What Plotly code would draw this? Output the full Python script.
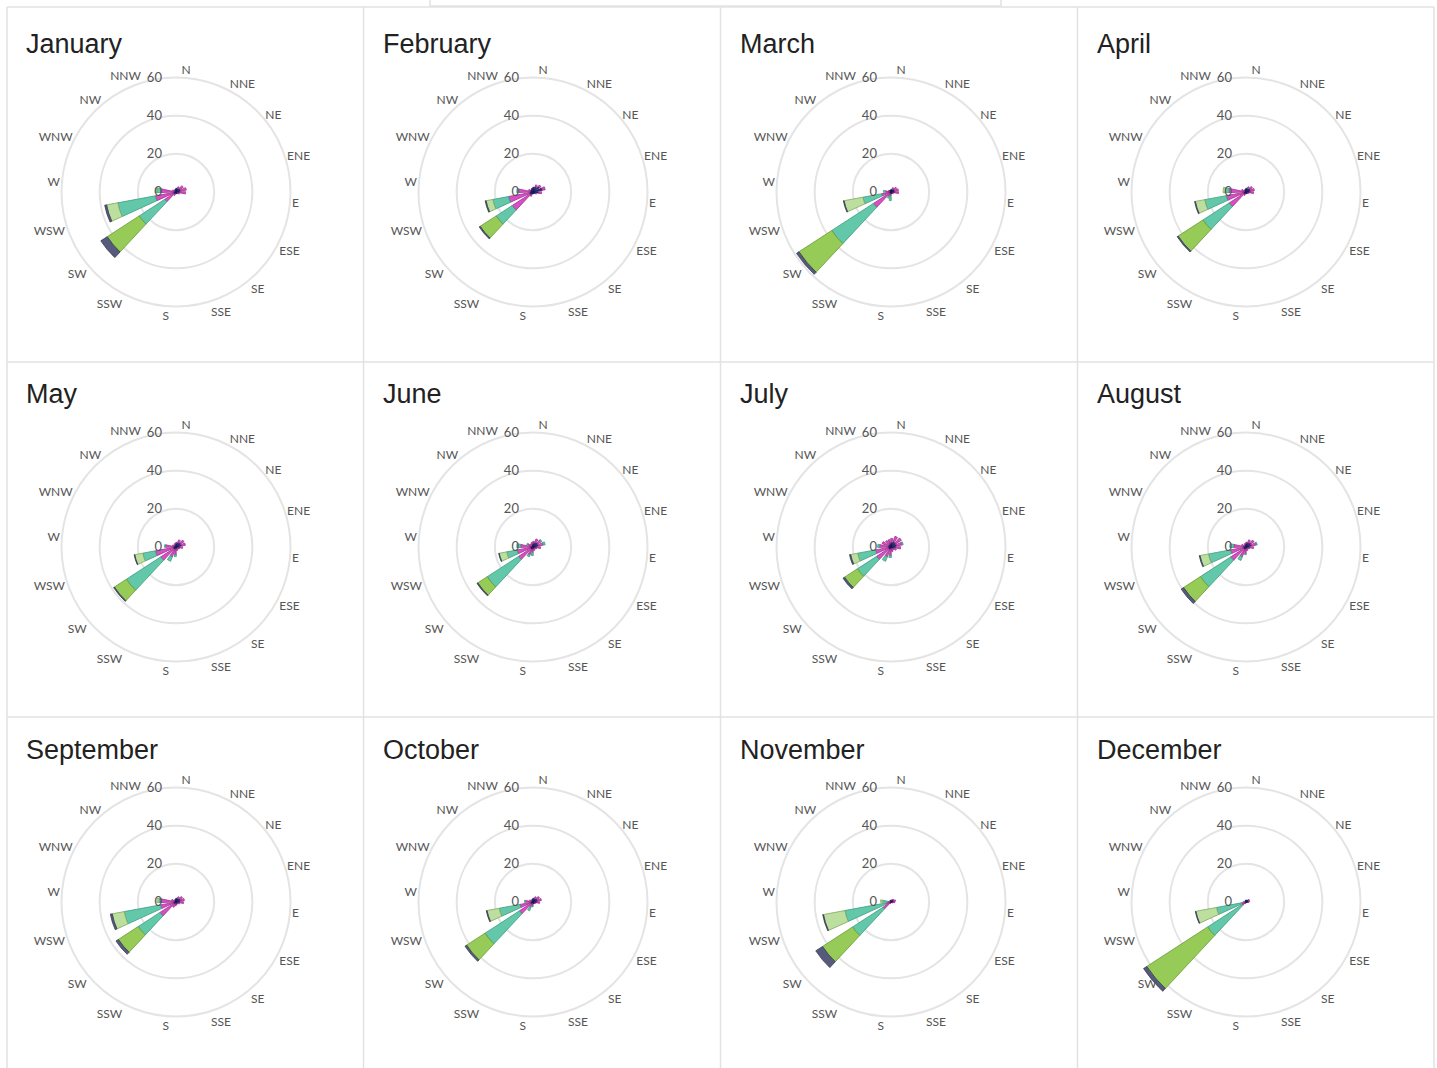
import plotly.graph_objects as go

W, H = 1437, 1068

MONTHS = ["January", "February", "March", "April", "May", "June",
          "July", "August", "September", "October", "November", "December"]
DIRECTIONS = ["N", "NNE", "NE", "ENE", "E", "ESE", "SE", "SSE",
              "S", "SSW", "SW", "WSW", "W", "WNW", "NW", "NNW"]
DIR_DEG = [i * 22.5 for i in range(len(DIRECTIONS))]
RADIAL_TICKS = [0, 20, 40, 60]

# Frequency (%) per speed class; one row per month, one column per direction
#          N    NNE  NE   ENE  E    ESE  SE   SSE  S    SSW  SW   WSW  W    WNW  NW   NNW
CLASS_1 = [
    [2.0, 2.0, 2.5, 2.5, 2.0, 1.0, 1.0, 1.0, 1.0, 1.0, 1.5, 1.5, 1.0, 1.0, 1.0, 1.5],
    [2.5, 3.0, 4.0, 5.0, 3.0, 1.5, 1.0, 1.0, 1.0, 1.5, 2.0, 2.0, 1.5, 1.5, 1.5, 2.0],
    [1.5, 1.5, 2.0, 2.0, 2.0, 1.0, 1.0, 1.0, 1.0, 1.0, 1.0, 1.0, 1.0, 1.0, 1.0, 1.0],
    [2.0, 2.0, 2.5, 2.5, 2.0, 1.0, 1.0, 1.0, 1.0, 1.0, 1.5, 1.5, 1.0, 1.0, 1.0, 1.5],
    [2.0, 2.5, 3.0, 3.0, 2.0, 1.0, 1.0, 1.0, 1.0, 1.5, 1.5, 1.5, 1.5, 1.0, 1.0, 1.5],
    [2.0, 2.5, 3.0, 3.0, 2.0, 1.0, 1.0, 1.0, 1.0, 1.5, 1.5, 1.5, 1.5, 1.0, 1.0, 1.5],
    [2.5, 3.0, 3.0, 3.0, 2.5, 1.5, 1.0, 1.0, 1.0, 1.5, 1.5, 1.5, 1.5, 1.5, 1.5, 2.0],
    [2.0, 2.5, 3.0, 3.0, 2.0, 1.0, 1.0, 1.0, 1.0, 1.5, 1.5, 1.5, 1.5, 1.0, 1.0, 1.5],
    [2.0, 2.0, 2.5, 2.5, 2.0, 1.0, 1.0, 1.0, 1.0, 1.0, 1.5, 1.5, 1.0, 1.0, 1.0, 1.5],
    [2.0, 2.0, 2.5, 2.5, 2.0, 1.0, 1.0, 1.0, 1.0, 1.0, 1.5, 1.5, 1.0, 1.0, 1.0, 1.5],
    [1.0, 1.0, 1.5, 1.5, 1.0, 0.5, 0.5, 0.5, 0.5, 0.5, 1.0, 1.0, 0.5, 0.5, 0.5, 1.0],
    [1.0, 1.0, 1.5, 1.5, 1.0, 0.5, 0.5, 0.5, 0.5, 0.5, 1.0, 1.0, 0.5, 0.5, 0.5, 1.0],
]
CLASS_2 = [
    [0.0, 1.0, 2.0, 3.0, 3.0, 1.0, 0.0, 0.0, 0.0, 1.0, 5.5, 9.5, 7.0, 1.0, 0.0, 0.0],
    [0.0, 1.0, 1.0, 1.5, 1.5, 0.5, 0.0, 0.0, 0.0, 1.0, 11.0, 11.0, 6.0, 1.0, 0.0, 0.0],
    [0.0, 1.0, 1.5, 2.0, 2.0, 0.5, 0.0, 0.0, 1.0, 1.5, 10.0, 4.0, 2.0, 0.5, 0.0, 0.0],
    [0.0, 1.0, 1.5, 2.0, 2.0, 0.5, 0.0, 0.0, 0.0, 1.0, 9.0, 9.0, 8.0, 1.5, 0.0, 0.0],
    [0.5, 1.5, 2.0, 2.0, 1.5, 1.0, 0.5, 1.0, 3.0, 4.0, 8.0, 9.5, 4.0, 1.0, 0.5, 0.5],
    [1.0, 2.0, 2.0, 2.5, 2.0, 1.0, 0.5, 1.0, 2.0, 3.0, 7.5, 7.0, 5.0, 2.0, 1.0, 1.0],
    [2.0, 3.0, 3.5, 3.0, 2.5, 1.5, 1.0, 1.5, 3.5, 4.0, 7.5, 6.8, 4.5, 3.5, 2.5, 2.0],
    [0.5, 1.5, 2.0, 2.5, 2.0, 1.0, 0.5, 1.0, 2.5, 4.0, 8.0, 6.8, 5.0, 1.5, 0.5, 0.5],
    [0.0, 1.0, 1.5, 2.0, 2.0, 1.0, 0.0, 0.5, 1.0, 2.0, 8.5, 6.8, 7.0, 1.5, 0.0, 0.0],
    [0.0, 1.0, 1.5, 2.0, 1.5, 0.5, 0.0, 0.0, 1.0, 2.0, 7.0, 5.5, 3.0, 1.0, 0.0, 0.0],
    [0.0, 0.5, 0.5, 1.0, 1.0, 0.5, 0.0, 0.0, 0.0, 0.5, 4.0, 2.0, 1.0, 0.5, 0.0, 0.0],
    [0.0, 0.0, 0.5, 0.5, 0.5, 0.0, 0.0, 0.0, 0.0, 0.5, 1.5, 1.5, 0.5, 0.0, 0.0, 0.0],
]
CLASS_3 = [
    [0.0, 0.0, 0.0, 0.0, 0.0, 0.0, 0.0, 0.0, 0.0, 0.0, 16.0, 20.0, 2.0, 0.0, 0.0, 0.0],
    [0.0, 0.0, 0.0, 0.0, 0.0, 0.0, 0.0, 0.0, 0.0, 0.0, 10.0, 8.4, 1.0, 0.0, 0.0, 0.0],
    [0.0, 0.0, 0.0, 0.0, 0.0, 0.0, 0.0, 0.0, 2.5, 1.0, 26.0, 10.0, 1.0, 0.0, 0.0, 0.0],
    [0.0, 0.0, 0.0, 0.0, 0.0, 0.0, 0.0, 0.0, 0.0, 0.0, 16.4, 11.5, 2.0, 0.0, 0.0, 0.0],
    [0.0, 0.0, 0.0, 0.0, 0.0, 0.0, 0.0, 0.0, 1.0, 2.5, 21.5, 6.7, 0.5, 0.0, 0.0, 0.0],
    [0.0, 0.0, 0.5, 1.0, 0.0, 0.0, 0.0, 0.0, 1.5, 1.0, 19.6, 5.5, 2.0, 0.5, 0.0, 0.0],
    [0.0, 0.0, 0.0, 0.5, 0.0, 0.0, 0.0, 0.0, 1.0, 2.5, 12.0, 9.5, 1.0, 0.0, 0.0, 0.0],
    [0.0, 0.0, 0.0, 0.5, 0.0, 0.0, 0.0, 0.0, 0.5, 2.0, 19.0, 11.7, 2.0, 0.0, 0.0, 0.0],
    [0.0, 0.0, 0.0, 0.0, 0.0, 0.0, 0.0, 0.0, 0.0, 0.0, 13.6, 19.3, 1.0, 0.0, 0.0, 0.0],
    [0.0, 0.0, 0.0, 0.0, 0.0, 0.0, 0.0, 0.0, 0.5, 2.0, 21.5, 11.0, 0.5, 0.0, 0.0, 0.0],
    [0.0, 0.0, 0.0, 0.0, 0.0, 0.0, 0.0, 0.0, 0.0, 0.0, 19.0, 21.6, 3.0, 0.0, 0.0, 0.0],
    [0.0, 0.0, 0.0, 0.0, 0.0, 0.0, 0.0, 0.0, 0.0, 0.0, 21.5, 13.2, 0.5, 0.0, 0.0, 0.0],
]
CLASS_4 = [
    [0.0, 0.0, 0.0, 0.0, 0.0, 0.0, 0.0, 0.0, 0.0, 0.0, 0.0, 6.0, 1.0, 0.0, 0.0, 0.0],
    [0.0, 0.0, 0.0, 0.0, 0.0, 0.0, 0.0, 0.0, 0.0, 0.0, 0.0, 3.6, 0.0, 0.0, 0.0, 0.0],
    [0.0, 0.0, 0.0, 0.0, 0.0, 0.0, 0.0, 0.0, 0.0, 0.0, 0.0, 10.0, 0.0, 0.0, 0.0, 0.0],
    [0.0, 0.0, 0.0, 0.0, 0.0, 0.0, 0.0, 0.0, 0.0, 0.0, 0.0, 5.0, 1.0, 0.0, 0.0, 0.0],
    [0.0, 0.0, 0.0, 0.0, 0.0, 0.0, 0.0, 0.0, 0.0, 0.0, 0.0, 4.3, 0.0, 0.0, 0.0, 0.0],
    [0.0, 0.0, 0.0, 0.0, 0.0, 0.0, 0.0, 0.0, 0.0, 0.0, 0.0, 4.0, 0.0, 0.0, 0.0, 0.0],
    [0.0, 0.0, 0.0, 0.0, 0.0, 0.0, 0.0, 0.0, 0.0, 0.0, 0.0, 3.7, 0.0, 0.0, 0.0, 0.0],
    [0.0, 0.0, 0.0, 0.0, 0.0, 0.0, 0.0, 0.0, 0.0, 0.0, 0.0, 4.5, 0.0, 0.0, 0.0, 0.0],
    [0.0, 0.0, 0.0, 0.0, 0.0, 0.0, 0.0, 0.0, 0.0, 0.0, 0.0, 6.4, 1.0, 0.0, 0.0, 0.0],
    [0.0, 0.0, 0.0, 0.0, 0.0, 0.0, 0.0, 0.0, 0.0, 0.0, 0.0, 6.5, 0.0, 0.0, 0.0, 0.0],
    [0.0, 0.0, 0.0, 0.0, 0.0, 0.0, 0.0, 0.0, 0.0, 0.0, 0.0, 11.4, 1.0, 0.0, 0.0, 0.0],
    [0.0, 0.0, 0.0, 0.0, 0.0, 0.0, 0.0, 0.0, 0.0, 0.0, 0.0, 11.0, 0.0, 0.0, 0.0, 0.0],
]
CLASS_5 = [
    [0.0, 0.0, 0.0, 0.0, 0.0, 0.0, 0.0, 0.0, 0.0, 0.0, 20.0, 0.0, 0.0, 0.0, 0.0, 0.0],
    [0.0, 0.0, 0.0, 0.0, 0.0, 0.0, 0.0, 0.0, 0.0, 0.0, 10.0, 0.0, 0.0, 0.0, 0.0, 0.0],
    [0.0, 0.0, 0.0, 0.0, 0.0, 0.0, 0.0, 0.0, 0.0, 0.0, 20.5, 0.0, 0.0, 0.0, 0.0, 0.0],
    [0.0, 0.0, 0.0, 0.0, 0.0, 0.0, 0.0, 0.0, 0.0, 0.0, 15.5, 0.0, 0.0, 0.0, 0.0, 0.0],
    [0.0, 0.0, 0.0, 0.0, 0.0, 0.0, 0.0, 0.0, 0.0, 0.0, 7.5, 0.0, 0.0, 0.0, 0.0, 0.0],
    [0.0, 0.0, 0.0, 0.0, 0.0, 0.0, 0.0, 0.0, 0.0, 0.0, 5.9, 0.0, 0.0, 0.0, 0.0, 0.0],
    [0.0, 0.0, 0.0, 0.0, 0.0, 0.0, 0.0, 0.0, 0.0, 0.0, 8.0, 0.0, 0.0, 0.0, 0.0, 0.0],
    [0.0, 0.0, 0.0, 0.0, 0.0, 0.0, 0.0, 0.0, 0.0, 0.0, 10.5, 0.0, 0.0, 0.0, 0.0, 0.0],
    [0.0, 0.0, 0.0, 0.0, 0.0, 0.0, 0.0, 0.0, 0.0, 0.0, 12.4, 0.0, 0.0, 0.0, 0.0, 0.0],
    [0.0, 0.0, 0.0, 0.0, 0.0, 0.0, 0.0, 0.0, 0.0, 0.0, 11.5, 0.0, 0.0, 0.0, 0.0, 0.0],
    [0.0, 0.0, 0.0, 0.0, 0.0, 0.0, 0.0, 0.0, 0.0, 0.0, 18.8, 0.0, 0.0, 0.0, 0.0, 0.0],
    [0.0, 0.0, 0.0, 0.0, 0.0, 0.0, 0.0, 0.0, 0.0, 0.0, 38.0, 0.0, 0.0, 0.0, 0.0, 0.0],
]
CLASS_6 = [
    [0.0, 0.0, 0.0, 0.0, 0.0, 0.0, 0.0, 0.0, 0.0, 0.0, 4.0, 1.0, 0.0, 0.0, 0.0, 0.0],
    [0.0, 0.0, 0.0, 0.0, 0.0, 0.0, 0.0, 0.0, 0.0, 0.0, 0.6, 0.5, 0.0, 0.0, 0.0, 0.0],
    [0.0, 0.0, 0.0, 0.0, 0.0, 0.0, 0.0, 0.0, 0.0, 0.0, 1.5, 0.4, 0.0, 0.0, 0.0, 0.0],
    [0.0, 0.0, 0.0, 0.0, 0.0, 0.0, 0.0, 0.0, 0.0, 0.0, 0.6, 0.4, 0.0, 0.0, 0.0, 0.0],
    [0.0, 0.0, 0.0, 0.0, 0.0, 0.0, 0.0, 0.0, 0.0, 0.0, 0.5, 0.3, 0.0, 0.0, 0.0, 0.0],
    [0.0, 0.0, 0.0, 0.0, 0.0, 0.0, 0.0, 0.0, 0.0, 0.0, 0.5, 0.3, 0.0, 0.0, 0.0, 0.0],
    [0.0, 0.0, 0.0, 0.0, 0.0, 0.0, 0.0, 0.0, 0.0, 0.0, 1.0, 0.6, 0.0, 0.0, 0.0, 0.0],
    [0.0, 0.0, 0.0, 0.0, 0.0, 0.0, 0.0, 0.0, 0.0, 0.0, 1.5, 0.4, 0.0, 0.0, 0.0, 0.0],
    [0.0, 0.0, 0.0, 0.0, 0.0, 0.0, 0.0, 0.0, 0.0, 0.0, 1.5, 1.0, 0.0, 0.0, 0.0, 0.0],
    [0.0, 0.0, 0.0, 0.0, 0.0, 0.0, 0.0, 0.0, 0.0, 0.0, 1.0, 0.4, 0.0, 0.0, 0.0, 0.0],
    [0.0, 0.0, 0.0, 0.0, 0.0, 0.0, 0.0, 0.0, 0.0, 0.0, 4.2, 0.4, 0.0, 0.0, 0.0, 0.0],
    [0.0, 0.0, 0.0, 0.0, 0.0, 0.0, 0.0, 0.0, 0.0, 0.0, 2.0, 0.3, 0.0, 0.0, 0.0, 0.0],
]

SPEED_CLASSES = [CLASS_1, CLASS_2, CLASS_3, CLASS_4, CLASS_5, CLASS_6]
FILL_COLORS = ["#252a7a", "#d64fc4", "#62c8a9", "#bcdfa0", "#97cb58", "#565b7c"]
EDGE_COLORS = ["#181c5a", "#a2308f", "#3c9c82", "#7da85a", "#679a30", "#383c58"]

GRID = "#e4e4e4"
LABEL = "#555555"
BORDER = "#e2e2e2"

# panel geometry in pixels
COL_X0 = [7, 364, 721, 1078]
CENTER_X = [176, 533, 891, 1246]
CENTER_Y = [192, 547, 902]
TITLE_Y = [44, 394, 750]
PX_PER_UNIT = 114.5 / 60          # radial scale of the rose
R_MAX = 65                        # radial range, room for the longest bars
LABEL_RING = 116.0                # radius of the compass-label ring (px)
ROTATION = 85


def domain(cx, cy, rad):
    return dict(x=[(cx - rad) / W, (cx + rad) / W],
                y=[1 - (cy + rad) / H, 1 - (cy - rad) / H])


fig = go.Figure()
layout = dict(
    width=W, height=H,
    margin=dict(l=0, r=0, t=0, b=0),
    paper_bgcolor="white",
    plot_bgcolor="white",
    showlegend=False,
    annotations=[],
    shapes=[],
)

for m, month in enumerate(MONTHS):
    r_i, c_i = divmod(m, 4)
    cx, cy = CENTER_X[c_i], CENTER_Y[r_i]
    data_sub = f"polar{2 * m + 1}" if m else "polar"
    label_sub = f"polar{2 * m + 2}"

    for k, cls in enumerate(SPEED_CLASSES):
        fig.add_trace(go.Barpolar(
            r=cls[m], theta=DIR_DEG, width=14,
            marker=dict(color=FILL_COLORS[k],
                        line=dict(color=EDGE_COLORS[k], width=0.8)),
            subplot=data_sub, hoverinfo="skip",
        ))

    layout[data_sub] = dict(
        domain=domain(cx, cy, R_MAX * PX_PER_UNIT),
        bgcolor="rgba(0,0,0,0)",
        barmode="stack",
        angularaxis=dict(
            rotation=ROTATION, direction="clockwise",
            tickmode="array", tickvals=DIR_DEG,
            showticklabels=False, showgrid=False, showline=False, ticks="",
        ),
        radialaxis=dict(
            range=[0, R_MAX], tickmode="array", tickvals=RADIAL_TICKS,
            angle=90, tickangle=90, side="counterclockwise",
            showline=False, ticks="outside", ticklen=9,
            tickcolor="rgba(0,0,0,0)",
            gridcolor=GRID, gridwidth=1.5,
            tickfont=dict(family="Lato", size=13, color=LABEL),
        ),
    )

    # compass labels around the rose
    fig.add_trace(go.Scatterpolar(
        r=[0], theta=[0], mode="markers", marker=dict(size=1, opacity=0),
        subplot=label_sub, hoverinfo="skip",
    ))
    layout[label_sub] = dict(
        domain=domain(cx, cy, LABEL_RING),
        bgcolor="rgba(0,0,0,0)",
        angularaxis=dict(
            rotation=ROTATION, direction="clockwise",
            tickmode="array", tickvals=DIR_DEG, ticktext=DIRECTIONS,
            showgrid=False, showline=False, ticks="",
            tickfont=dict(family="Lato", size=12, color=LABEL),
        ),
        radialaxis=dict(visible=False),
    )

    layout["annotations"].append(dict(
        text=month, x=(COL_X0[c_i] + 17) / W, y=1 - TITLE_Y[r_i] / H,
        xref="paper", yref="paper", xanchor="left", yanchor="middle",
        showarrow=False,
        font=dict(family="Liberation Sans, Arial, sans-serif", size=27, color="#222222"),
    ))

# cell borders
for x in [7, 363.5, 720.5, 1077.5, 1434]:
    layout["shapes"].append(dict(type="line", xref="paper", yref="paper",
                                 x0=x / W, x1=x / W, y0=0, y1=1 - 7 / H,
                                 line=dict(color=BORDER, width=1.5)))
for y in [7, 362, 717]:
    layout["shapes"].append(dict(type="line", xref="paper", yref="paper",
                                 x0=7 / W, x1=1434 / W, y0=1 - y / H, y1=1 - y / H,
                                 line=dict(color=BORDER, width=1.5)))
layout["shapes"].append(dict(type="rect", xref="paper", yref="paper",
                             x0=430 / W, x1=1001 / W, y0=1 - 6 / H, y1=1.01,
                             line=dict(color=BORDER, width=1.5)))

fig.update_layout(**layout)
fig.write_html("out.html")
